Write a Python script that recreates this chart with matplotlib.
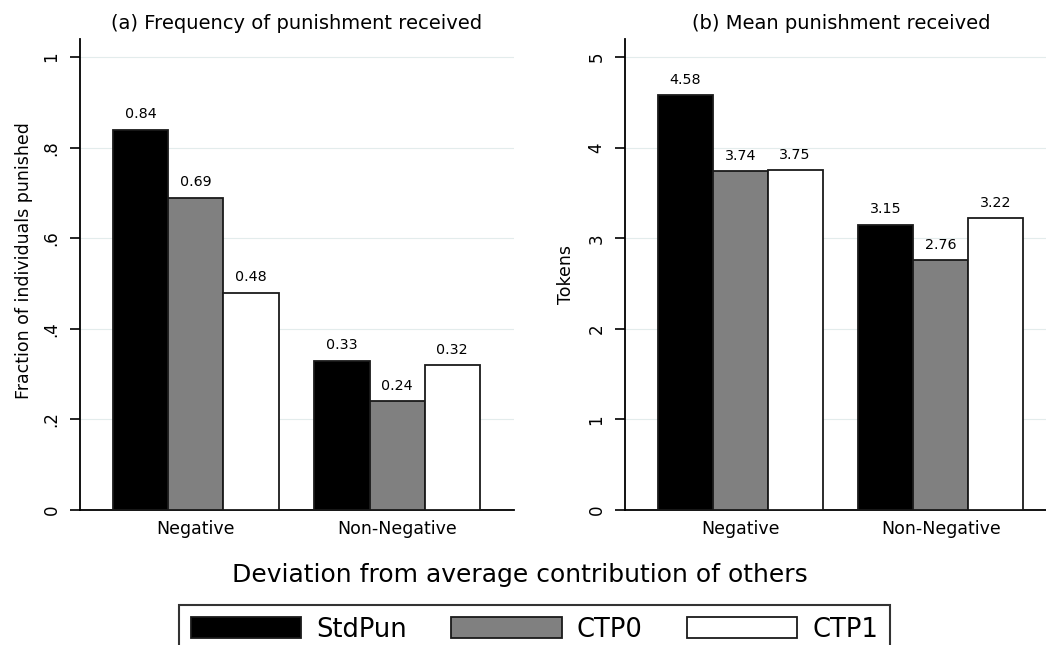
import matplotlib
matplotlib.use("Agg")
import matplotlib.pyplot as plt
import numpy as np

plt.rcParams['font.family'] = ['DejaVu Sans']

categories = ["Negative", "Non-Negative"]
series_names = ["StdPun", "CTP0", "CTP1"]
freq_values = [[0.84, 0.33], [0.69, 0.24], [0.48, 0.32]]
freq_labels = [["0.84", "0.33"], ["0.69", "0.24"], ["0.48", "0.32"]]
mean_values = [[4.58, 3.15], [3.74, 2.76], [3.75, 3.22]]
mean_labels = [["4.58", "3.15"], ["3.74", "2.76"], ["3.75", "3.22"]]
freq_ticks = [0, 0.2, 0.4, 0.6, 0.8, 1.0]
freq_ticklabels = ["0", ".2", ".4", ".6", ".8", "1"]
mean_ticks = [0, 1, 2, 3, 4, 5]
mean_ticklabels = ["0", "1", "2", "3", "4", "5"]

colors = ["#000000", "#808080", "#ffffff"]

W, H = 1046, 645
fig = plt.figure(figsize=(W / 100, H / 100), dpi=100)

def px_axes(x0, x1, ytop, ybot):
    return fig.add_axes([x0 / W, 1 - ybot / H, (x1 - x0) / W, (ybot - ytop) / H])

ax1 = px_axes(80, 514, 39, 510)
ax2 = px_axes(625, 1057, 39, 510)

group_gap = 0.65
lead = 0.6
group_starts = [lead, lead + 3 + group_gap]

def draw(ax, values, labels, ylim, ticks, ticklabels, title, ylabel):
    handles = []
    for s in range(3):
        xs = [g + s + 0.5 for g in group_starts]
        b = ax.bar(xs, values[s], width=1.0, color=colors[s], edgecolor="#1a1a1a",
                   linewidth=1.3, zorder=3, label=series_names[s])
        handles.append(b)
        for x, v, t in zip(xs, values[s], labels[s]):
            ax.annotate(t, (x, v), xytext=(0, 6), textcoords="offset points",
                        ha="center", va="bottom", fontsize=10.3, zorder=4)
    ax.set_xlim(0, group_starts[1] + 3 + 0.62)
    ax.set_ylim(*ylim)
    ax.set_xticks([g + 1.5 for g in group_starts])
    ax.set_xticklabels(categories, fontsize=12.5)
    ax.tick_params(axis="x", length=0, pad=7)
    ax.set_yticks(ticks)
    ax.set_yticklabels(ticklabels, rotation=90, va="center", fontsize=12)
    ax.tick_params(axis="y", length=7, width=1.2, pad=7)
    ax.grid(axis="y", color="#e3ecec", linewidth=0.8, zorder=0)
    ax.set_axisbelow(True)
    for sp in ["top", "right"]:
        ax.spines[sp].set_visible(False)
    for sp in ["left", "bottom"]:
        ax.spines[sp].set_linewidth(1.3)
    ax.set_title(title, fontsize=14, pad=7)
    ax.set_ylabel(ylabel, fontsize=12.5)
    return handles

handles = draw(ax1, freq_values, freq_labels, (0, 1.04), freq_ticks, freq_ticklabels,
               "(a) Frequency of punishment received", "Fraction of individuals punished")
draw(ax2, mean_values, mean_labels, (0, 5.2), mean_ticks, mean_ticklabels,
     "(b) Mean punishment received", "Tokens")
ax1.yaxis.set_label_coords(-0.108, 0.53)
ax2.yaxis.set_label_coords(-0.116, 0.5)

fig.text(520 / W, 1 - 575 / H, "Deviation from average contribution of others",
         ha="center", va="center", fontsize=18)

leg = fig.legend(handles, series_names, loc="upper center",
                 bbox_to_anchor=(534.5 / W, 1 - 605 / H), ncol=3, fontsize=18.5,
                 frameon=True, fancybox=False, edgecolor="#000000",
                 handlelength=4.3, handleheight=0.9, handletextpad=0.6,
                 columnspacing=1.7, borderpad=0.45, borderaxespad=0)
leg.get_frame().set_linewidth(1.5)

fig.savefig("out.png", dpi=100, facecolor="white")
